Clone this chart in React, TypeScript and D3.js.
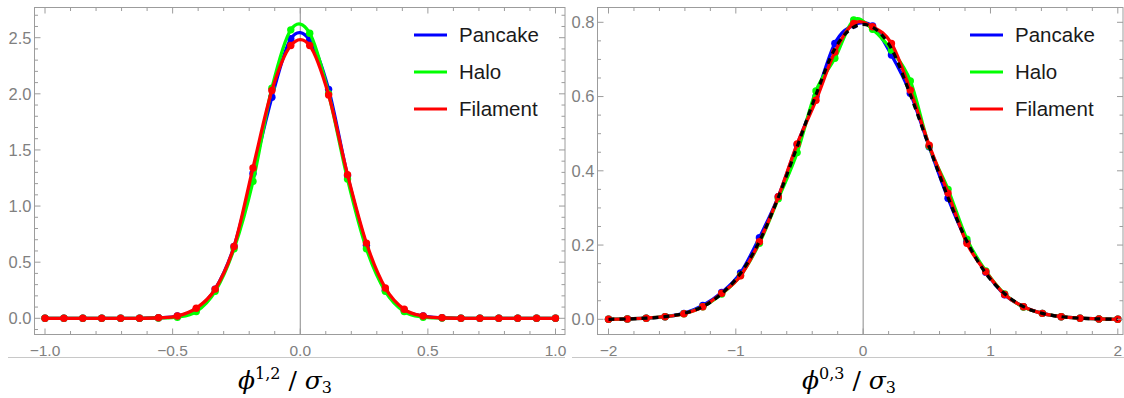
import React from "react";
import * as d3 from "d3";

// ---------- DATA ----------
const seriesNames = ["Pancake", "Halo", "Filament"];
const seriesColors = ["#0000ff", "#00ff00", "#ff0000"];

// Left panel: 28 sample points from -1 to 1
const leftX = d3.range(28).map((k) => -1 + (2 * k) / 27);
const leftPancake = [0, 0, 0, 0, 0, 0, 0.005, 0.02, 0.08, 0.26, 0.64, 1.29, 1.97, 2.49, 2.48, 2.04, 1.27, 0.65, 0.25, 0.07, 0.02, 0.005, 0, 0, 0, 0, 0, 0];
const leftHalo = [0, 0, 0, 0, 0, 0, 0.003, 0.01, 0.06, 0.24, 0.62, 1.22, 2.05, 2.57, 2.54, 2.0, 1.24, 0.62, 0.24, 0.06, 0.01, 0.003, 0, 0, 0, 0, 0, 0];
const leftFilament = [0, 0, 0, 0, 0, 0, 0.005, 0.02, 0.09, 0.26, 0.64, 1.34, 2.03, 2.43, 2.43, 1.99, 1.28, 0.67, 0.27, 0.08, 0.02, 0.005, 0, 0, 0, 0, 0, 0];

// Right panel: 28 sample points from -2 to 2
const rightX = d3.range(28).map((k) => -2 + (4 * k) / 27);
const rightPancake = [0, 0.001, 0.003, 0.007, 0.016, 0.037, 0.072, 0.125, 0.22, 0.33, 0.47, 0.6, 0.743, 0.793, 0.79, 0.712, 0.609, 0.465, 0.326, 0.21, 0.127, 0.066, 0.034, 0.016, 0.007, 0.003, 0.001, 0];
const rightHalo = [0, 0.001, 0.003, 0.007, 0.015, 0.034, 0.068, 0.118, 0.205, 0.325, 0.449, 0.615, 0.703, 0.806, 0.781, 0.725, 0.642, 0.466, 0.35, 0.216, 0.13, 0.068, 0.033, 0.016, 0.007, 0.003, 0.001, 0];
const rightFilament = [0, 0.001, 0.003, 0.007, 0.015, 0.034, 0.07, 0.117, 0.209, 0.33, 0.472, 0.59, 0.72, 0.797, 0.788, 0.743, 0.617, 0.469, 0.34, 0.205, 0.128, 0.067, 0.034, 0.016, 0.007, 0.003, 0.001, 0];
const rightReference = [0, 0.001, 0.003, 0.007, 0.016, 0.034, 0.069, 0.124, 0.21, 0.328, 0.465, 0.605, 0.729, 0.787, 0.787, 0.729, 0.605, 0.465, 0.328, 0.21, 0.124, 0.069, 0.034, 0.016, 0.007, 0.003, 0.001, 0];

// Ticks
const leftXMajor = [-1, -0.5, 0, 0.5, 1];
const leftXLabels = ["\u22121.0", "\u22120.5", "0.0", "0.5", "1.0"];
const leftXMinor = d3.range(-10, 11).map((i) => i / 10);
const leftYMajor = [0, 0.5, 1, 1.5, 2, 2.5];
const leftYLabels = ["0.0", "0.5", "1.0", "1.5", "2.0", "2.5"];
const leftYMinor = d3.range(-1, 28).map((i) => i / 10);

const rightXMajor = [-2, -1, 0, 1, 2];
const rightXLabels = ["\u22122", "\u22121", "0", "1", "2"];
const rightXMinor = d3.range(-10, 11).map((i) => i / 5);
const rightYMajor = [0, 0.2, 0.4, 0.6, 0.8];
const rightYLabels = ["0.0", "0.2", "0.4", "0.6", "0.8"];
const rightYMinor = d3.range(0, 17).map((i) => i / 20);

type PanelProps = {
  frame: { x0: number; x1: number; y0: number; y1: number };
  xDomain: [number, number];
  xRange: [number, number];
  yDomain: [number, number];
  yRange: [number, number];
  xs: number[];
  series: number[][];
  reference?: number[];
  xMajor: number[];
  xLabels: string[];
  xMinor: number[];
  yMajor: number[];
  yLabels: string[];
  yMinor: number[];
  legendX: number;
  clipId: string;
};

const FRAME = "#9c9c9c";
const TICKTEXT = "#808080";
const SANS = "'Liberation Sans', Arial, sans-serif";

function Panel(p: PanelProps) {
  const x = d3.scaleLinear().domain(p.xDomain).range(p.xRange);
  const y = d3.scaleLinear().domain(p.yDomain).range(p.yRange);
  const line = d3
    .line<number>()
    .x((_, i) => x(p.xs[i]))
    .y((d) => y(d))
    .curve(d3.curveCardinal.tension(0));
  const { x0, x1, y0, y1 } = p.frame;
  const isMajorX = (v: number) => p.xMajor.some((m) => Math.abs(m - v) < 1e-9);
  const isMajorY = (v: number) => p.yMajor.some((m) => Math.abs(m - v) < 1e-9);
  const inX = (v: number) => x(v) > x0 + 0.5 && x(v) < x1 - 0.5;
  const inY = (v: number) => y(v) > y0 + 0.5 && y(v) < y1 - 0.5;
  const legendYs = [35, 72, 109];
  return (
    <g>
      <defs>
        <clipPath id={p.clipId}>
          <rect x={x0} y={y0} width={x1 - x0} height={y1 - y0} />
        </clipPath>
      </defs>
      {/* vertical axis at x = 0 */}
      <line x1={x(0)} x2={x(0)} y1={y0} y2={y1} stroke="#8a8a8a" strokeWidth={1} />
      <g clipPath={`url(#${p.clipId})`}>
        {p.series.map((s, si) => (
          <g key={si}>
            <path d={line(s) || ""} fill="none" stroke={seriesColors[si]} strokeWidth={3.3} strokeLinejoin="round" />
            {s.map((v, i) => (
              <circle key={i} cx={x(p.xs[i])} cy={y(v)} r={3.7} fill={seriesColors[si]} />
            ))}
          </g>
        ))}
        {p.reference && (
          <path d={line(p.reference) || ""} fill="none" stroke="#000" strokeWidth={3.2} strokeDasharray="6,5" />
        )}
      </g>
      {/* frame */}
      <rect x={x0} y={y0} width={x1 - x0} height={y1 - y0} fill="none" stroke={FRAME} strokeWidth={1} />
      {/* ticks */}
      {p.xMinor.filter(inX).map((v, i) => {
        const len = isMajorX(v) ? 6 : 3.5;
        return (
          <g key={"xt" + i}>
            <line x1={x(v)} x2={x(v)} y1={y1} y2={y1 - len} stroke={FRAME} />
            <line x1={x(v)} x2={x(v)} y1={y0} y2={y0 + len} stroke={FRAME} />
          </g>
        );
      })}
      {p.yMinor.filter(inY).map((v, i) => {
        const len = isMajorY(v) ? 6 : 3.5;
        return (
          <g key={"yt" + i}>
            <line x1={x0} x2={x0 + len} y1={y(v)} y2={y(v)} stroke={FRAME} />
            <line x1={x1} x2={x1 - len} y1={y(v)} y2={y(v)} stroke={FRAME} />
          </g>
        );
      })}
      {p.xMajor.map((v, i) => (
        <text key={"xl" + i} x={x(v)} y={355.5} textAnchor="middle" fontFamily={SANS} fontSize={15.5} fill={TICKTEXT}>
          {p.xLabels[i]}
        </text>
      ))}
      {p.yMajor.map((v, i) => (
        <text key={"yl" + i} x={x0 - 3} y={y(v)} dy="0.36em" textAnchor="end" fontFamily={SANS} fontSize={16.5} fill={TICKTEXT}>
          {p.yLabels[i]}
        </text>
      ))}
      {/* legend */}
      {seriesNames.map((n, i) => (
        <g key={"lg" + i}>
          <line x1={p.legendX} x2={p.legendX + 33} y1={legendYs[i]} y2={legendYs[i]} stroke={seriesColors[i]} strokeWidth={3} />
          <text x={p.legendX + 45} y={legendYs[i] + 6.5} fontFamily={SANS} fontSize={20.5} fill="#1a1a1a">
            {n}
          </text>
        </g>
      ))}
    </g>
  );
}

function AxisLabel({ cx, sup }: { cx: number; sup: string }) {
  return (
    <text x={cx} y={389} textAnchor="middle" fontFamily="'DejaVu Serif', 'Liberation Serif', serif" fontSize={25} fill="#000">
      <tspan fontStyle="italic">{"\u03D5"}</tspan>
      <tspan fontSize={16} dy={-10}>{sup}</tspan>
      <tspan dy={10}>{" / "}</tspan>
      <tspan fontStyle="italic">{"\u03C3"}</tspan>
      <tspan fontSize={16} dy={4}>3</tspan>
    </text>
  );
}

export default function App() {
  return (
    <svg width={1124} height={398} style={{ position: "absolute", left: 0, top: 0, background: "#fff" }}>
      <rect width={1124} height={398} fill="#fff" />
      <line x1={8} x2={565} y1={357.5} y2={357.5} stroke="#c8c8c8" />
      <line x1={572} x2={1124} y1={357.5} y2={357.5} stroke="#c8c8c8" />
      <Panel
        frame={{ x0: 34.5, x1: 565, y0: 7.5, y1: 334.5 }}
        xDomain={[-1, 1]}
        xRange={[45, 555.5]}
        yDomain={[0, 2.5]}
        yRange={[318.3, 37.7]}
        xs={leftX}
        series={[leftPancake, leftHalo, leftFilament]}
        xMajor={leftXMajor}
        xLabels={leftXLabels}
        xMinor={leftXMinor}
        yMajor={leftYMajor}
        yLabels={leftYLabels}
        yMinor={leftYMinor}
        legendX={414}
        clipId="clipL"
      />
      <Panel
        frame={{ x0: 597.5, x1: 1123, y0: 7.5, y1: 334.5 }}
        xDomain={[-2, 2]}
        xRange={[608.5, 1117.8]}
        yDomain={[0, 0.8]}
        yRange={[319.3, 22.3]}
        xs={rightX}
        series={[rightPancake, rightHalo, rightFilament]}
        reference={rightReference}
        xMajor={rightXMajor}
        xLabels={rightXLabels}
        xMinor={rightXMinor}
        yMajor={rightYMajor}
        yLabels={rightYLabels}
        yMinor={rightYMinor}
        legendX={970}
        clipId="clipR"
      />
      <AxisLabel cx={285} sup="1,2" />
      <AxisLabel cx={849} sup="0,3" />
    </svg>
  );
}
